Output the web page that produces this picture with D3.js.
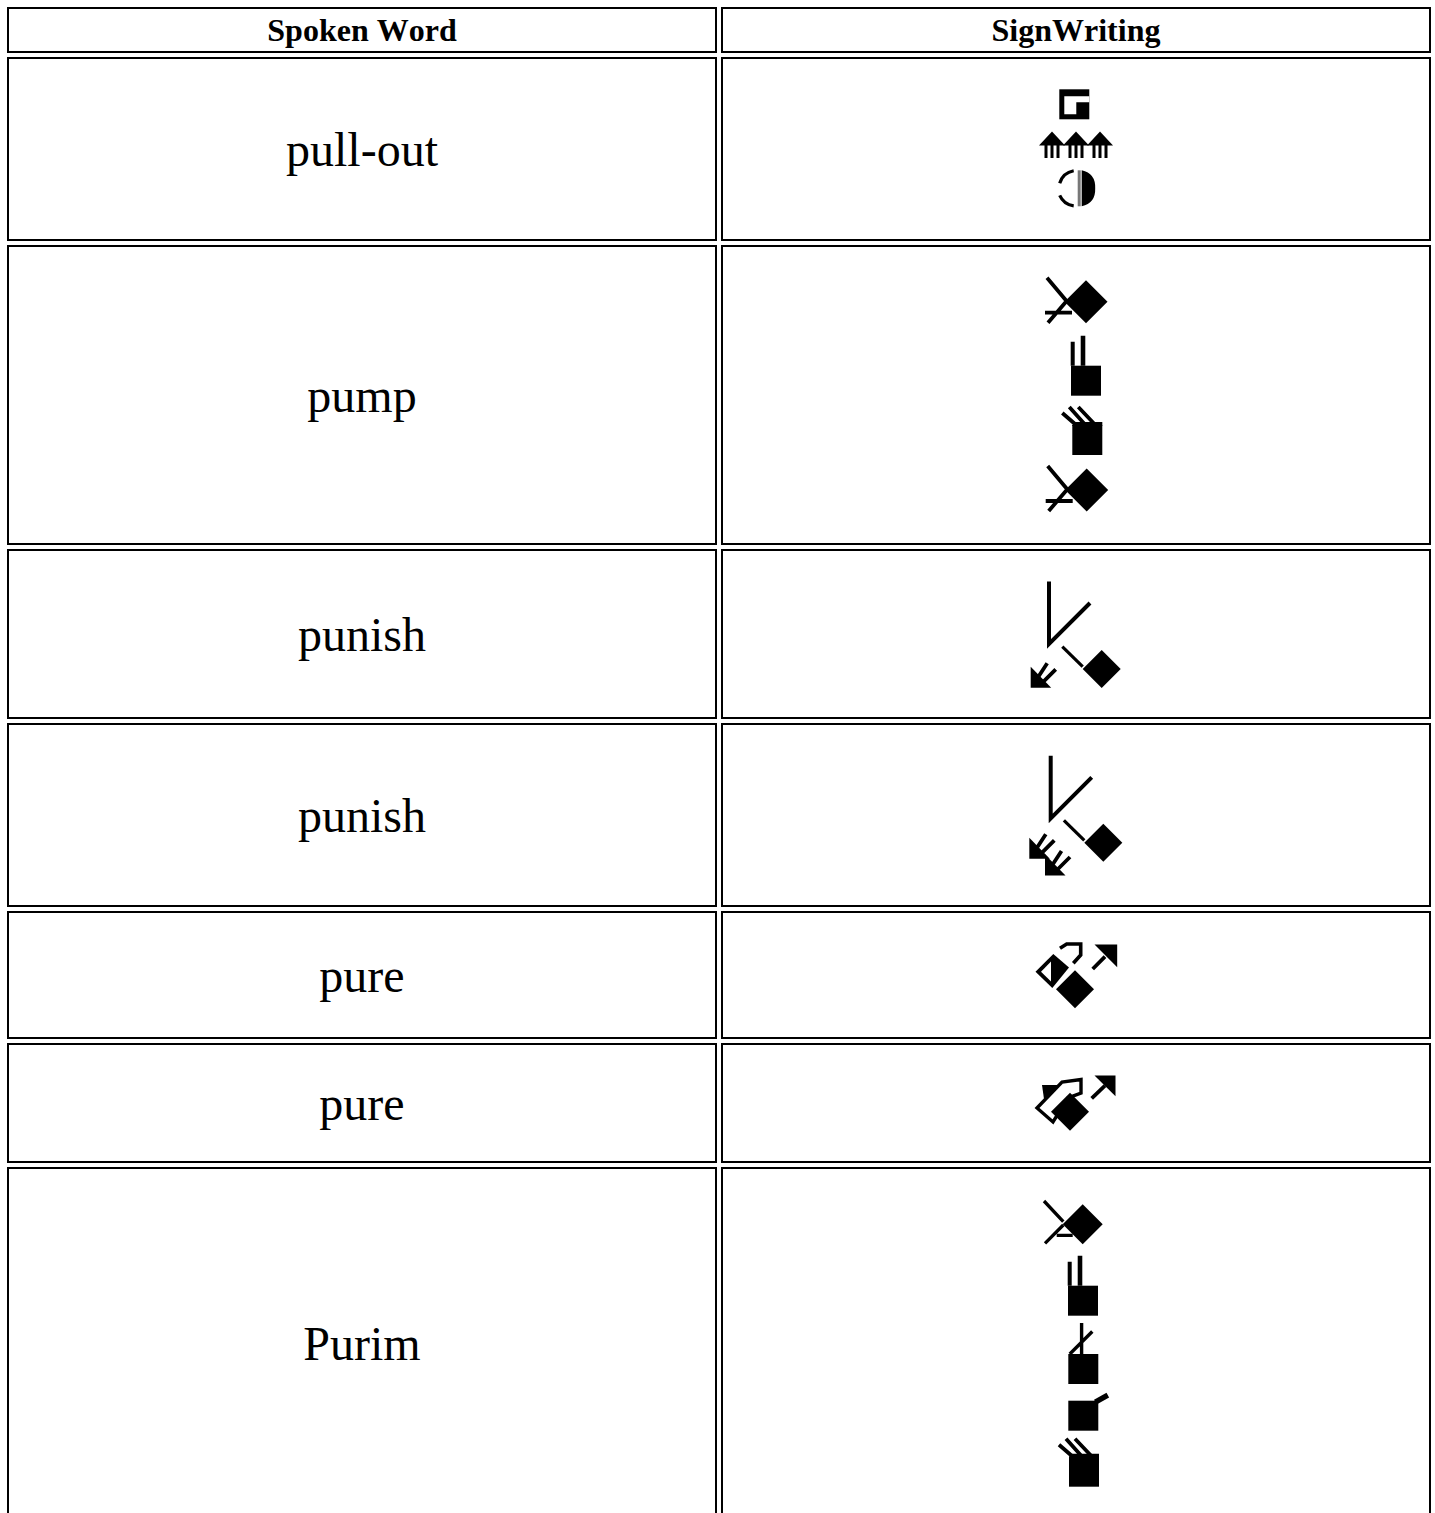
<!DOCTYPE html>
<html>
<head>
<meta charset="utf-8">
<title>Spoken Word / SignWriting</title>
<script src="https://d3js.org/d3.v7.min.js"></script>
<style>
    html, body { margin: 0; padding: 0; background: #fff; overflow: hidden; }
    svg { display: block; }
    text { font-family: "Liberation Serif", "Times New Roman", serif; fill: #000; font-kerning: none; }
</style>
</head>
<body>
<div id="chart"></div>
<script>
// table content
const headers = ["Spoken Word", "SignWriting"];
const spokenWords = ["pull-out", "pump", "punish", "punish", "pure", "pure", "Purim"];
const signs = [
    ["boxHand", "tripleArrows", "halfCircle"],
    ["contact", "twoFingers", "slantFingers", "contact"],
    ["vee", "touch", "arrowDown"],
    ["vee", "touch", "arrowDown", "arrowDown"],
    ["openHand", "diamond", "arrowUp"],
    ["closedHand", "diamond", "arrowUpSmall"],
    ["contactThin", "twoFingers", "crossFingers", "bentFinger", "slantFingers"]
];

// layout, kept apart from the content above
const width = 1435, height = 1513;
const tableLeft = 7, tableTop = 7, cellSpacing = 4, cellWidth = 710, borderWidth = 2;
const headerHeight = 46;
const rowHeights = [184, 300, 170, 184, 128, 120, 420];
// where each sign symbol sits: dx from the cell centre, dy from the row top
const signOffsets = [
    [[-16.7, 32.3], [0, 75], [0.7, 131.3]],
    [[10, 56.7], [-5, 120.7], [-3.7, 180], [10.7, 245]],
    [[-27, 95], [25.7, 120], [-45.3, 138.3]],
    [[-25.3, 95.3], [27.3, 119.7], [-46.7, 135.3], [-31, 152]],
    [[-56, 19], [-1, 78.3], [-56, 19]],
    [[-56, 22], [-6, 68.7], [-56, 22]],
    [[6.7, 57.3], [-8, 118.7], [-7.7, 187], [-7.7, 233.7], [-7, 289.7]]
];

// sign symbols: every part is [kind, path], kind is fill, white, grey or a stroke width
const fist = ["fill", "M0 0H30V30H0Z"];
const symbols = {
    boxHand: [
        ["fill", "M0 0H30V30H0Z"],
        ["white", "M5 7H30V13H17V25H5Z"]
    ],
    tripleArrows: [-24, 0, 24].map(x => [
        ["fill", `M${x} -0.5L${x + 13} 13.5H${x - 13}Z`],
        [3, `M${x - 6} 12V26M${x} 12V26M${x + 6} 12V26`]
    ]).flat(),
    halfCircle: [
        [3.2, "M-17 -5A18 18 0 0 1 -3 -17.5"],
        [3.2, "M-17 7A18 18 0 0 0 -3 17.5"],
        ["grey", "M1 -18H4V18H1Z"],
        ["fill", "M5 -18Q19 -15 18.5 0Q19 15 5 18Z"]
    ],
    contact: [
        [3.8, "M-39 -24L-18 1M-20 0L-38 21M-41 11H-14"],
        ["fill", "M-21.5 0L0 -21.5L21.5 0L0 21.5Z"]
    ],
    contactThin: [
        [3.3, "M-38.7 -23.3L-19.4 -2.6M-19.4 0.7L-37.7 19M-26 11H-10"],
        ["fill", "M-20 0L0 -20L20 0L0 20Z"]
    ],
    twoFingers: [
        fist,
        ["fill", "M-0.3 -24H3.7V0H-0.3ZM9.7 -30H14.3V0H9.7Z"]
    ],
    slantFingers: [
        fist,
        [3.8, "M5 1L-10 -12M14 1L-3 -18M24 1L6 -18"],
        ["fill", "M0 0L3 -3H30V1H0Z"]
    ],
    crossFingers: [
        fist,
        [3.4, "M13.3 -31V0M24 -22.5L1.5 0"]
    ],
    bentFinger: [
        fist,
        [5.4, "M27 1.5L39.5 -5.5"]
    ],
    vee: [
        [4, "M0 -62.5V0L41 -41"]
    ],
    touch: [
        [3.2, "M-39.4 -22.3L-19 -2.3"],
        ["fill", "M-19 0L0 -19L19 0L0 19Z"]
    ],
    diamond: [
        ["fill", "M-19 0L0 -19L19 0L0 19Z"]
    ],
    arrowDown: [
        ["fill", "M0 -20.5V0.5H20.5Z"],
        [3.8, "M8 -11L16.5 -24M13 -6L25 -18"]
    ],
    openHand: [
        ["fill", "M15.5 41.7L33.3 24L49 37.5L32.3 58Z"],
        ["white", "M21 41.7L31 31.5V51.5Z"],
        [3.6, "M40 18.3L46.7 14H60.7V25L53.3 33.3"]
    ],
    arrowUp: [
        ["fill", "M74.5 14.5H97.2V37.2Z"],
        [3.8, "M85 26.7L72.7 39"]
    ],
    closedHand: [
        ["fill", "M22 20H39L42 26L25 41Z"],
        [3.4, "M17 43L42 17L61 14.5V28L48 33L33 57Z"]
    ],
    arrowUpSmall: [
        ["fill", "M74.5 10.5H95.5V31.2Z"],
        [3.8, "M85 20.7L71.7 33.3"]
    ]
};

// the columns through a band scale, the rows through their running height
const columnScale = d3.scaleBand()
    .domain(headers)
    .range([tableLeft, tableLeft + cellWidth * 2 + cellSpacing])
    .paddingInner(cellSpacing / (cellWidth + cellSpacing));

const allHeights = [headerHeight].concat(rowHeights);
const rowTops = allHeights.map((h, i) => tableTop + d3.sum(allHeights.slice(0, i)) + i * cellSpacing);

const svg = d3.select("#chart").append("svg")
    .attr("width", width)
    .attr("height", height);

svg.append("defs").append("filter")
    .attr("id", "soft")
    .append("feGaussianBlur")
    .attr("stdDeviation", 0.45);

/*
 *  One bordered cell.
 */
function drawCell(x, y, h) {
    svg.append("rect")
        .attr("x", x + borderWidth / 2)
        .attr("y", y + borderWidth / 2)
        .attr("width", cellWidth - borderWidth)
        .attr("height", h - borderWidth)
        .attr("fill", "#fff")
        .attr("stroke", "#000")
        .attr("stroke-width", borderWidth)
        .attr("shape-rendering", "crispEdges");
}

/*
 *  One sign symbol, placed by its offset.
 */
function drawSymbol(group, name, dx, dy) {
    let g = group.append("g")
        .attr("transform", "translate(" + dx + "," + dy + ")");

    g.selectAll("path")
        .data(symbols[name])
        .join("path")
        .attr("d", d => d[1])
        .attr("fill", d => {
            if(typeof d[0] === "number") return name === "closedHand" ? "#fff" : "none";
            return d[0] === "fill" ? "#000" : d[0] === "white" ? "#fff" : "#777";
        })
        .attr("stroke", d => typeof d[0] === "number" ? "#000" : "none")
        .attr("stroke-width", d => typeof d[0] === "number" ? d[0] : 0);
}

// header row
headers.forEach(h => {
    drawCell(columnScale(h), rowTops[0], headerHeight);
    svg.append("text")
        .attr("x", columnScale(h) + cellWidth / 2)
        .attr("y", rowTops[0] + 34)
        .attr("text-anchor", "middle")
        .attr("font-size", 32)
        .attr("font-weight", "bold")
        .text(h);
});

// body rows
spokenWords.forEach((word, i) => {
    let top = rowTops[i + 1];
    let h = rowHeights[i];
    let lastRow = i === spokenWords.length - 1;
    let visibleHeight = lastRow ? 352 : h;

    headers.forEach(c => drawCell(columnScale(c), top, h));

    svg.append("text")
        .attr("x", columnScale(headers[0]) + cellWidth / 2)
        .attr("y", top + visibleHeight / 2 + 17)
        .attr("text-anchor", "middle")
        .attr("font-size", 48)
        .text(word);

    let cx = columnScale(headers[1]) + cellWidth / 2;
    let group = svg.append("g")
        .attr("transform", "translate(" + cx + "," + top + ")")
        .attr("filter", "url(#soft)");

    signs[i].forEach((name, j) => {
        drawSymbol(group, name, signOffsets[i][j][0], signOffsets[i][j][1]);
    });
});
</script>
</body>
</html>
